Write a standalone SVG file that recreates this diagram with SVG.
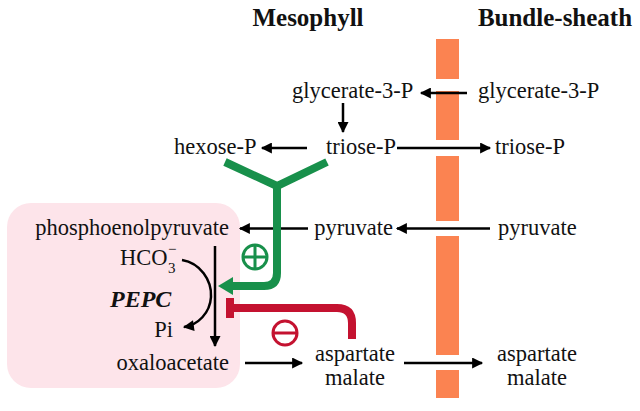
<svg xmlns="http://www.w3.org/2000/svg" width="640" height="411" viewBox="0 0 640 411">
<defs>
<style>
text{font-family:"Liberation Serif","Times New Roman",serif;font-size:22.5px;fill:#111}
.hdr{font-weight:bold;font-size:25px;text-anchor:middle}
.ln{stroke:#000;stroke-width:2.5;fill:none}
.bar{fill:#fb8351}
</style>
<marker id="ah" viewBox="0 0 10 10" refX="9" refY="5" markerWidth="12" markerHeight="11" markerUnits="userSpaceOnUse" orient="auto">
<path d="M0,0 L10,5 L0,10 Z" fill="#000"/>
</marker>
</defs>
<rect width="640" height="411" fill="#fff"/>
<g id="pink-box"><rect x="7" y="203" width="233" height="185" rx="24" fill="#fde4ea"/></g>
<g id="membrane">
<rect class="bar" x="436" y="39" width="23" height="40"/>
<rect class="bar" x="436" y="91" width="23" height="49"/>
<rect class="bar" x="436" y="156" width="23" height="65"/>
<rect class="bar" x="436" y="236" width="23" height="119"/>
<rect class="bar" x="436" y="370" width="23" height="28"/>
</g>
<g id="headers">
<text class="hdr" x="308" y="26">Mesophyll</text>
<text class="hdr" x="555" y="26">Bundle-sheath</text>
</g>
<g id="n-glycerate-m"><text x="292" y="98">glycerate-3-P</text></g>
<g id="n-glycerate-b"><text x="478" y="98">glycerate-3-P</text></g>
<g id="n-hexose"><text x="174" y="154">hexose-P</text></g>
<g id="n-triose-m"><text x="326" y="154">triose-P</text></g>
<g id="n-triose-b"><text x="495" y="154">triose-P</text></g>
<g id="n-pep"><text x="229" y="235" text-anchor="end">phosphoenolpyruvate</text></g>
<g id="n-pyruvate-m"><text x="393" y="235" text-anchor="end">pyruvate</text></g>
<g id="n-pyruvate-b"><text x="498" y="235">pyruvate</text></g>
<g id="n-hco3"><text x="120" y="265">HCO</text><text x="168" y="273" style="font-size:15px">3</text><text x="168" y="254" style="font-size:15px">−</text></g>
<g id="n-pepc"><text x="110" y="307" style="font-weight:bold;font-style:italic;font-size:24px">PEPC</text></g>
<g id="n-pi"><text x="173" y="337" text-anchor="end">Pi</text></g>
<g id="n-oaa"><text x="229" y="370" text-anchor="end">oxaloacetate</text></g>
<g id="n-asp-m"><text x="355" y="361" text-anchor="middle">aspartate</text><text x="355" y="385" text-anchor="middle">malate</text></g>
<g id="n-asp-b"><text x="537" y="361" text-anchor="middle">aspartate</text><text x="537" y="385" text-anchor="middle">malate</text></g>
<g id="connectors">
<line class="ln" x1="467" y1="93" x2="421" y2="93" marker-end="url(#ah)"/>
<line class="ln" x1="343" y1="103" x2="343" y2="132" marker-end="url(#ah)"/>
<line class="ln" x1="307" y1="148" x2="262" y2="148" marker-end="url(#ah)"/>
<line class="ln" x1="397" y1="148" x2="490" y2="148" marker-end="url(#ah)"/>
<line class="ln" x1="490" y1="228.5" x2="397" y2="228.5" marker-end="url(#ah)"/>
<line class="ln" x1="308" y1="228.5" x2="240" y2="228.5" marker-end="url(#ah)"/>
<line class="ln" x1="215" y1="246" x2="215" y2="346" marker-end="url(#ah)"/>
<path class="ln" d="M182,260 C200,263 212,280 211,297 C210,313 198,325 184,327" marker-end="url(#ah)"/>
<line class="ln" x1="245" y1="363" x2="302" y2="363" marker-end="url(#ah)"/>
<line class="ln" x1="404" y1="363" x2="482" y2="363" marker-end="url(#ah)"/>
</g>
<g id="activation">
<path d="M225,162 L277,186 L327,162 M277,186 L277,273 Q277,286 264,286 L232,286" fill="none" stroke="#18904b" stroke-width="8" stroke-linejoin="miter"/>
<path d="M218,286 L233,277 L233,295 Z" fill="#18904b"/>
<circle cx="255" cy="257" r="12" fill="none" stroke="#18904b" stroke-width="3"/>
<path d="M244,257 H266 M255,246 V268" stroke="#18904b" stroke-width="3"/>
</g>
<g id="inhibition">
<path d="M232,308 L337,308 Q352,308 352,323 L352,339" fill="none" stroke="#c41230" stroke-width="8"/>
<rect x="226" y="298" width="8" height="20" fill="#c41230"/>
<circle cx="285" cy="333" r="12" fill="none" stroke="#c41230" stroke-width="3"/>
<path d="M274,333 H296" stroke="#c41230" stroke-width="3"/>
</g>
</svg>
